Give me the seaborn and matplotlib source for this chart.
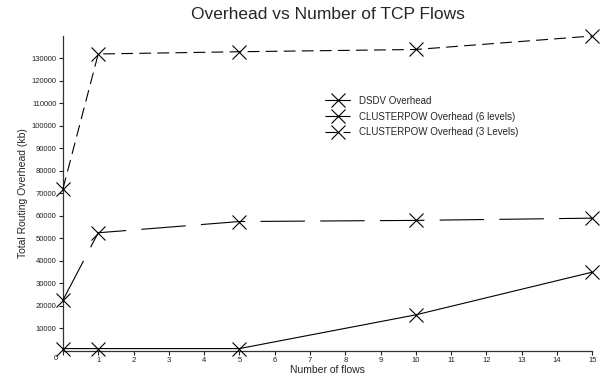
import pandas as pd
import seaborn as sns
import matplotlib
matplotlib.use("Agg")
import matplotlib.pyplot as plt
import matplotlib.transforms as mtransforms

# data
flows = [0, 1, 5, 10, 15]
dsdv = [1000, 1000, 1000, 16000, 35000]
cp6 = [22500, 52500, 57500, 58000, 59000]
cp3 = [72000, 132000, 133000, 134000, 140000]

series_names = ["DSDV Overhead",
                "CLUSTERPOW Overhead (6 levels)",
                "CLUSTERPOW Overhead (3 Levels)"]

x_ticks = list(range(0, 16))
y_ticks = list(range(10000, 140000, 10000))

df = pd.DataFrame({"flows": flows, "dsdv": dsdv, "cp6": cp6, "cp3": cp3})

sns.set_style("ticks")
plt.rcParams["font.family"] = ["Liberation Sans", "DejaVu Sans"]
plt.rcParams["lines.scale_dashes"] = False

fig = plt.figure(figsize=(6.05, 3.83), dpi=100)
ax = fig.add_axes([0.104, 0.084, 0.875, 0.822])

styles = {
    "dsdv": "-",
    "cp6": (0, (32, 11)),
    "cp3": (0, (8.5, 4.5)),
}
for col, name in zip(["dsdv", "cp6", "cp3"], series_names):
    sns.lineplot(data=df, x="flows", y=col, ax=ax, color="black",
                 linewidth=0.8, linestyle=styles[col], marker="x",
                 markersize=9.5, markeredgewidth=0.8,
                 markeredgecolor="black", label=name, legend=False,
                 clip_on=False, zorder=3)

ax.set_xlim(0, 15)
ax.set_ylim(0, 140000)
ax.set_xticks(x_ticks)
ax.set_xticklabels([str(t) for t in x_ticks], fontsize=5.5)
ax.set_yticks(y_ticks)
ax.set_yticklabels([str(t) for t in y_ticks], fontsize=5.5)
ax.tick_params(axis="both", length=3, width=0.8, pad=1.5, colors="#222222")

# the origin label sits left of the axis corner
zero_lbl = ax.get_xticklabels()[0]
zero_lbl.set_transform(zero_lbl.get_transform() +
                       mtransforms.ScaledTranslation(-5 / 72, 1.5 / 72, fig.dpi_scale_trans))

sns.despine(ax=ax)
for side in ["left", "bottom"]:
    ax.spines[side].set_linewidth(0.9)
    ax.spines[side].set_color("#333333")

ax.set_xlabel("Number of flows", fontsize=7.5, labelpad=1)
ax.set_ylabel("Total Routing Overhead (kb)", fontsize=7.5, labelpad=3)
ax.set_title("Overhead vs Number of TCP Flows", fontsize=12.5, pad=12)

ax.legend(loc="upper left", bbox_to_anchor=(0.495, 0.81), frameon=False,
          fontsize=7, handlelength=2.6, handletextpad=0.9, labelspacing=0.6,
          borderpad=0, borderaxespad=0)

fig.savefig("out.png", dpi=100)
